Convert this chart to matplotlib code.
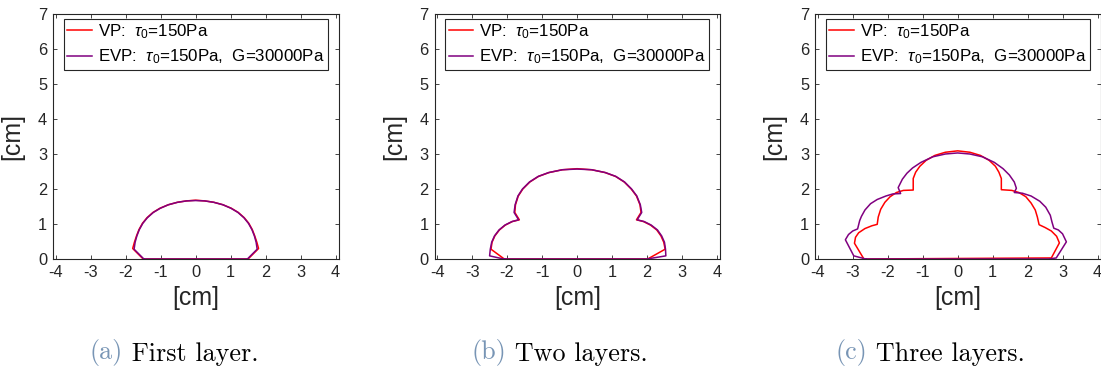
import matplotlib
matplotlib.use('Agg')
import matplotlib.pyplot as plt

plt.rcParams['font.family'] = ['Liberation Sans', 'DejaVu Sans']
plt.rcParams['mathtext.fontset'] = 'custom'
plt.rcParams['mathtext.rm'] = 'Liberation Sans'
plt.rcParams['mathtext.it'] = 'Liberation Sans:italic'
plt.rcParams['axes.unicode_minus'] = False

# Deposit cross-sections, [cm]
# (a) first layer
vp_a_x = [-1.50, -1.80, -1.75, -1.69, -1.62, -1.52, -1.39, -1.22, -1.02, -0.78, -0.52, -0.26, 0.00,
          0.26, 0.52, 0.78, 1.02, 1.22, 1.39, 1.52, 1.62, 1.69, 1.75, 1.80, 1.50, -1.50]
vp_a_y = [0.00, 0.30, 0.48, 0.66, 0.84, 1.02, 1.18, 1.33, 1.45, 1.55, 1.62, 1.66, 1.68,
          1.66, 1.62, 1.55, 1.45, 1.33, 1.18, 1.02, 0.84, 0.66, 0.48, 0.30, 0.00, 0.00]
evp_a_x = [-1.48, -1.76, -1.73, -1.68, -1.61, -1.51, -1.38, -1.21, -1.01, -0.78, -0.52, -0.26, 0.00,
           0.26, 0.52, 0.78, 1.01, 1.21, 1.38, 1.51, 1.61, 1.68, 1.73, 1.76, 1.48, -1.48]
evp_a_y = [0.00, 0.28, 0.48, 0.66, 0.84, 1.02, 1.18, 1.33, 1.45, 1.55, 1.62, 1.66, 1.67,
           1.66, 1.62, 1.55, 1.45, 1.33, 1.18, 1.02, 0.84, 0.66, 0.48, 0.28, 0.00, 0.00]

# (b) two layers
vp_b_x = [-2.08, -2.46, -2.43, -2.35, -2.22, -2.05, -1.85, -1.65, -1.78, -1.76, -1.68, -1.55, -1.35,
          -1.10, -0.80, -0.42, 0.00, 0.42, 0.80, 1.10, 1.35, 1.55, 1.70, 1.80, 1.83, 1.70, 1.90,
          2.10, 2.28, 2.40, 2.48, 2.52, 2.02, -2.08]
vp_b_y = [0.00, 0.28, 0.48, 0.66, 0.83, 0.97, 1.07, 1.12, 1.33, 1.55, 1.80, 2.00, 2.20,
          2.36, 2.47, 2.55, 2.58, 2.55, 2.47, 2.36, 2.20, 2.00, 1.80, 1.55, 1.33, 1.12, 1.07,
          0.97, 0.83, 0.66, 0.48, 0.28, 0.00, 0.00]
evp_b_x = [-2.10, -2.50, -2.48, -2.44, -2.36, -2.23, -2.06, -1.86, -1.67, -1.80, -1.77, -1.69, -1.56,
           -1.36, -1.11, -0.81, -0.42, 0.00, 0.42, 0.81, 1.11, 1.36, 1.56, 1.71, 1.81, 1.85, 1.72,
           1.92, 2.12, 2.30, 2.42, 2.50, 2.53, 2.54, 2.00, -2.10]
evp_b_y = [0.00, 0.09, 0.28, 0.48, 0.66, 0.83, 0.97, 1.07, 1.12, 1.33, 1.55, 1.80, 2.00,
           2.20, 2.36, 2.47, 2.55, 2.57, 2.55, 2.47, 2.36, 2.20, 2.00, 1.80, 1.55, 1.33, 1.12,
           1.07, 0.97, 0.83, 0.66, 0.48, 0.28, 0.09, 0.00, 0.00]

# (c) three layers
vp_c_x = [-2.68, -2.95, -2.92, -2.83, -2.65, -2.45, -2.30, -2.27, -2.20, -2.08, -1.93, -1.75, -1.55,
          -1.27, -1.27, -1.20, -1.08, -0.90, -0.65, -0.35, 0.00, 0.35, 0.65, 0.90, 1.08, 1.18,
          1.25, 1.25, 1.55, 1.75, 1.95, 2.10, 2.22, 2.28, 2.33, 2.50, 2.68, 2.83, 2.91, 2.68, -2.68]
vp_c_y = [0.00, 0.45, 0.62, 0.75, 0.87, 0.95, 0.99, 1.20, 1.42, 1.62, 1.78, 1.90, 1.96,
          1.97, 2.30, 2.48, 2.65, 2.82, 2.96, 3.05, 3.09, 3.05, 2.96, 2.82, 2.65, 2.48,
          2.30, 1.98, 1.96, 1.90, 1.78, 1.60, 1.40, 1.20, 0.98, 0.90, 0.80, 0.65, 0.46, 0.03, 0.00]
evp_c_x = [-2.63, -2.97, -3.21, -3.12, -3.00, -2.86, -2.80, -2.75, -2.65, -2.49, -2.30, -2.05, -1.85,
           -1.63, -1.70, -1.58, -1.45, -1.29, -1.05, -0.71, -0.35, 0.00, 0.35, 0.71, 1.05, 1.30,
           1.48, 1.62, 1.68, 1.62, 1.85, 2.10, 2.35, 2.52, 2.65, 2.70, 2.75, 2.88, 3.00, 3.11,
           2.82, 2.60, -2.63]
evp_c_y = [0.00, 0.09, 0.55, 0.70, 0.80, 0.86, 1.10, 1.22, 1.40, 1.58, 1.70, 1.80, 1.86,
           1.87, 2.04, 2.28, 2.45, 2.60, 2.76, 2.92, 3.00, 3.03, 3.00, 2.92, 2.76, 2.58,
           2.40, 2.20, 2.02, 1.90, 1.88, 1.80, 1.65, 1.48, 1.25, 1.05, 0.88, 0.83, 0.72, 0.49,
           0.03, 0.00, 0.00]

panels = [
    (vp_a_x, vp_a_y, evp_a_x, evp_a_y),
    (vp_b_x, vp_b_y, evp_b_x, evp_b_y),
    (vp_c_x, vp_c_y, evp_c_x, evp_c_y),
]
tags = ['(a)', '(b)', '(c)']
captions = ['First layer.', 'Two layers.', 'Three layers.']
x_ticks = [-4, -3, -2, -1, 0, 1, 2, 3, 4]
y_ticks = [0, 1, 2, 3, 4, 5, 6, 7]

W, H = 1101, 367
fig = plt.figure(figsize=(W / 100, H / 100), dpi=100)

ax_left = [53.3, 434.7, 815.3]
cap_left = [90, 471, 835]
edge = '#262626'

for k, (vx, vy, ex, ey) in enumerate(panels):
    ax = fig.add_axes([ax_left[k] / W, (H - 259) / H, 285.7 / W, 245 / H])
    ax.plot(vx, vy, color='#ff0000', lw=1.1, label=r'VP:  $\tau_0$=150Pa')
    ax.plot(ex, ey, color='#800080', lw=1.1, label=r'EVP:  $\tau_0$=150Pa,  G=30000Pa')
    ax.set_xlim(-4.07, 4.1)
    ax.set_ylim(0, 7)
    ax.set_xticks(x_ticks)
    ax.set_yticks(y_ticks)
    ax.tick_params(direction='in', top=True, right=True, length=3, width=0.6,
                   labelsize=11.8, colors=edge, pad=4.5)
    for s in ax.spines.values():
        s.set_color(edge)
        s.set_linewidth(0.8)
    ax.set_xlabel('[cm]', fontsize=18, color=edge)
    ax.xaxis.set_label_coords(0.5, -0.11)
    ax.set_ylabel('[cm]', fontsize=18, color=edge)
    ax.yaxis.set_label_coords(-0.1, 0.5)

    leg = ax.legend(loc='upper left', bbox_to_anchor=(0.037, 0.98), borderaxespad=0,
                    fontsize=12.2, handlelength=1.45, handletextpad=0.35, borderpad=0.2,
                    labelspacing=0.4, fancybox=False, framealpha=1, edgecolor=edge)
    leg.get_frame().set_linewidth(0.8)

    # sub-figure caption: coloured tag followed by the text
    t = fig.text(cap_left[k] / W, 8 / H, tags[k], family='cmr10', fontsize=18.8,
                 color='#7895b5', va='baseline', ha='left')
    ax.annotate(' ' + captions[k], xy=(1, 0), xycoords=t, xytext=(0, 0),
                textcoords='offset points', family='cmr10', fontsize=18.8,
                color='black', va='bottom', ha='left', annotation_clip=False)

fig.savefig('out.png', dpi=100)
